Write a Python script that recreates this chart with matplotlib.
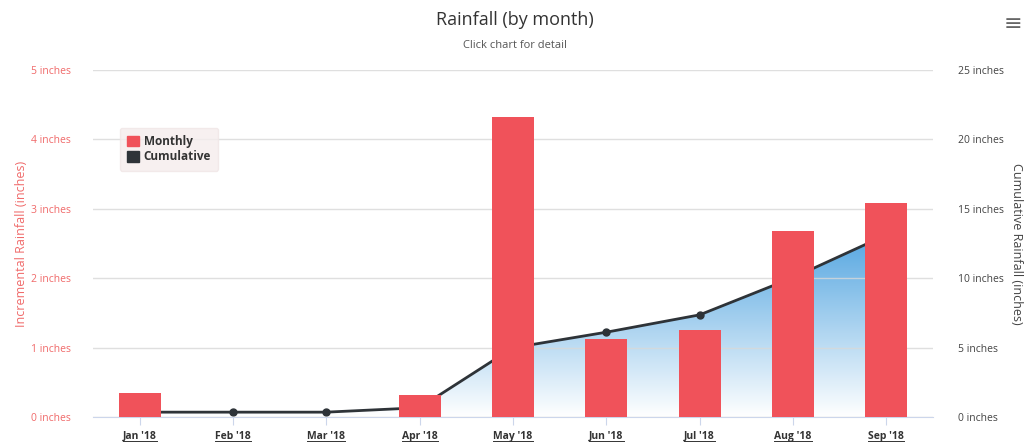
import numpy as np
import matplotlib.pyplot as plt
from matplotlib.lines import Line2D
from matplotlib.patches import Patch

plt.rcParams['font.family'] = ['Open Sans', 'DejaVu Sans']

months = ["Jan '18", "Feb '18", "Mar '18", "Apr '18", "May '18",
          "Jun '18", "Jul '18", "Aug '18", "Sep '18"]
monthly = [0.35, 0.0, 0.0, 0.32, 4.32, 1.12, 1.25, 2.68, 3.08]
cumulative = [0.35, 0.35, 0.35, 0.67, 4.99, 6.11, 7.36, 10.04, 13.12]
left_ticks = [0, 1, 2, 3, 4, 5]
right_ticks = [0, 5, 10, 15, 20, 25]

bar_color = '#f0525a'
line_color = '#2e3338'
red_text = '#f06a6a'
dark_text = '#444444'

fig = plt.figure(figsize=(10.3, 4.46), dpi=100)
ax1 = fig.add_axes([0.0903, 0.065, 0.8155, 0.778])
ax2 = ax1.twinx()
ax1.set_zorder(ax2.get_zorder() + 1)
ax1.patch.set_visible(False)

x = np.arange(len(months))

# cumulative area with a vertical blue->white gradient
poly = ax2.fill_between(x, cumulative, 0, color='none', lw=0)
grad = np.linspace(1, 0, 256).reshape(-1, 1)
top = np.array([0.33, 0.65, 0.88])
rgb = top[None, None, :] * grad[:, :, None] + (1 - grad[:, :, None])
img = ax2.imshow(rgb, extent=[x[0], x[-1], 0, max(cumulative)],
                 aspect='auto', origin='upper', zorder=1)
img.set_clip_path(poly.get_paths()[0], transform=ax2.transData)
ax2.plot(x, cumulative, color=line_color, lw=2, marker='o', ms=5, zorder=3)

ax1.bar(x, monthly, width=0.45, color=bar_color, zorder=3)

ax1.set_xlim(-0.5, len(months) - 0.5)
ax1.set_ylim(0, 5)
ax2.set_ylim(0, 25)
ax1.set_yticks(left_ticks)
ax1.set_yticklabels([f'{t} inches' for t in left_ticks], color=red_text, fontsize=7.5)
ax2.set_yticks(right_ticks)
ax2.set_yticklabels([f'{t} inches' for t in right_ticks], color=dark_text, fontsize=7.5)
ax1.tick_params(axis='y', length=0, pad=16)
ax2.tick_params(axis='y', length=0, pad=18)
ax1.set_xticks(x)
ax1.set_xticklabels(months, fontsize=7.5, fontweight='bold', color='#333333')
ax1.tick_params(axis='x', length=6, color='#ccd6eb', pad=4)

ax1.grid(axis='y', color='#d8d8d8', lw=1, alpha=0.8)
ax1.set_axisbelow(False)
for ax in (ax1, ax2):
    for s in ax.spines.values():
        s.set_visible(False)
ax1.spines['bottom'].set_visible(True)
ax1.spines['bottom'].set_color('#ccd6eb')

ax1.set_ylabel('Incremental Rainfall (inches)', color=red_text, fontsize=9, labelpad=2)
ax2.set_ylabel('Cumulative Rainfall (inches)', color=dark_text, fontsize=9,
               rotation=-90, labelpad=14)

fig.text(0.5, 0.955, 'Rainfall (by month)', ha='center', va='center',
         fontsize=13, color='#333333')
fig.text(0.5, 0.898, 'Click chart for detail', ha='center', va='center',
         fontsize=8, color='#555555')
fig.text(0.983, 0.945, '\u2261', ha='center', va='center', fontsize=16, color='#666666')

handles = [Patch(color=bar_color, label='Monthly'), Patch(color=line_color, label='Cumulative')]
leg = ax1.legend(handles=handles, loc='upper left', bbox_to_anchor=(0.025, 0.85),
                 fontsize=8.5, frameon=True, handlelength=1.0, handleheight=1.0,
                 handletextpad=0.4, labelspacing=0.2, borderpad=0.6)
leg.get_frame().set_facecolor('#f5eded')
leg.get_frame().set_edgecolor('#f0e6e6')
for t in leg.get_texts():
    t.set_fontweight('bold')
    t.set_color('#333333')

# underline x labels (link style)
fig.canvas.draw()
r = fig.canvas.get_renderer()
for lab in ax1.get_xticklabels():
    bb = lab.get_window_extent(r)
    fx0, fx1 = bb.x0 / fig.bbox.width, bb.x1 / fig.bbox.width
    fy = (bb.y0 + 1) / fig.bbox.height
    fig.add_artist(Line2D([fx0, fx1], [fy, fy], color='#333333', lw=0.7))

fig.savefig('out.png', dpi=100)
